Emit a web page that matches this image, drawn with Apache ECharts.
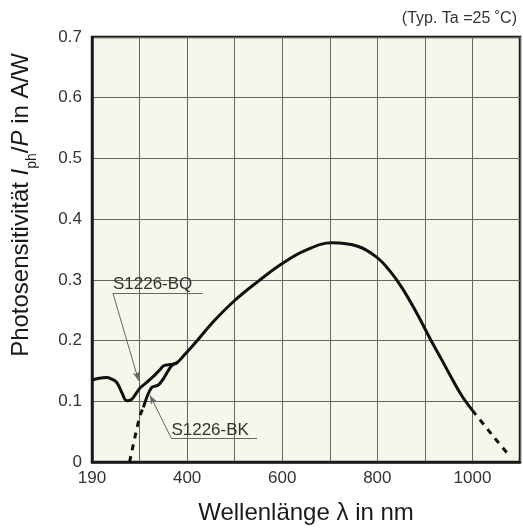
<!DOCTYPE html>
<html>
<head>
<meta charset="utf-8">
<script src="https://cdn.jsdelivr.net/npm/echarts@6/dist/echarts.min.js"></script>
<style>
html,body{margin:0;padding:0;background:#fff;}
#c{width:523px;height:530px;}
</style>
</head>
<body>
<div id="c"></div>
<script>
// ---- data (wavelength nm, photosensitivity A/W) ----
const bqWave = [200, 215, 231, 240, 252, 263, 273, 283, 292, 301, 315, 322, 333, 343, 350, 360, 370, 378, 395, 420, 455, 500, 550, 600, 650, 705, 760, 799, 825, 851, 883, 911, 935, 953, 977, 1000];
const bqVal  = [0.135, 0.138, 0.139, 0.137, 0.131, 0.114, 0.101, 0.103, 0.112, 0.122, 0.131, 0.136, 0.144, 0.152, 0.158, 0.160, 0.161, 0.163, 0.177, 0.199, 0.231, 0.266, 0.298, 0.327, 0.349, 0.361, 0.355, 0.337, 0.316, 0.288, 0.245, 0.203, 0.169, 0.143, 0.110, 0.085];
const tailWave = [1000, 1040, 1079];
const tailVal  = [0.085, 0.046, 0.009];
const bkDashWave = [279, 290, 301, 308];
const bkDashVal  = [0.0, 0.040, 0.077, 0.090];
const bkWave = [308, 318, 326, 333, 340, 350, 364, 371, 378];
const bkVal  = [0.090, 0.112, 0.123, 0.125, 0.127, 0.137, 0.155, 0.161, 0.163];
const xTickLabels = {200: '190', 400: '400', 600: '600', 800: '800', 1000: '1000'};
// annotation anchors (data coordinates)
const bqLabel = {text: 'S1226-BQ', start: [244, 0.278], end: [433, 0.278], tip: [298, 0.134]};
const bkLabel = {text: 'S1226-BK', start: [367, 0.0386], end: [547, 0.0386], tip: [322, 0.110]};

function pairs(xs, ys) { return xs.map((x, i) => [x, ys[i]]); }

const FONT = 'Liberation Sans, Arial, sans-serif';
const chart = echarts.init(document.getElementById('c'), null, {renderer: 'canvas'});

function annot(a) {
  const lbl = {show: true, position: 'insideStartTop', formatter: a.text, fontSize: 17, color: '#333', fontFamily: FONT, distance: 0};
  return [
    [{coord: a.start, symbol: 'none', label: lbl}, {coord: a.end, symbol: 'none'}],
    [{coord: a.start, symbol: 'none', label: {show: false}}, {coord: a.tip, symbol: 'arrow', symbolSize: [5, 9]}]
  ];
}

const option = {
  animation: false,
  textStyle: {fontFamily: FONT},
  title: {
    text: '(Typ. Ta =25 ˚C)', right: 1, top: 6,
    textStyle: {fontSize: 16, fontWeight: 'normal', color: '#333', fontFamily: FONT}
  },
  grid: {
    left: 92, right: 3, top: 37, bottom: 63,
    show: true, backgroundColor: '#f7f6ea', borderColor: '#1a1a1a', borderWidth: 2.5
  },
  xAxis: {
    type: 'value', min: 200, max: 1100, interval: 100,
    name: 'Wellenlänge λ in nm', nameLocation: 'middle', nameGap: 39,
    nameTextStyle: {fontSize: 24, color: '#1a1a1a', fontFamily: FONT},
    axisLine: {show: true, lineStyle: {color: '#1a1a1a', width: 2.5}},
    axisTick: {show: false},
    axisLabel: {
      fontSize: 17, color: '#333', margin: 8, fontFamily: FONT,
      showMinLabel: true, showMaxLabel: true,
      formatter: v => xTickLabels[v] || ''
    },
    splitLine: {show: true, lineStyle: {color: '#666', width: 1}}
  },
  yAxis: {
    type: 'value', min: 0, max: 0.7, interval: 0.1,
    axisLine: {show: true, lineStyle: {color: '#1a1a1a', width: 2.5}},
    axisTick: {show: false},
    axisLabel: {fontSize: 17, color: '#333', margin: 10, fontFamily: FONT,
      formatter: v => (v === 0 ? '0' : v.toFixed(1))},
    splitLine: {show: true, lineStyle: {color: '#666', width: 1}}
  },
  graphic: [{
    type: 'text', x: 24, y: 205, rotation: Math.PI / 2,
    style: {
      text: '{n|Photosensitivität }{i|I}{s|ph}{n|/}{i|P}{n| in A/W}',
      align: 'center', verticalAlign: 'middle',
      rich: {
        n: {fontSize: 24, fontFamily: FONT, fill: '#1a1a1a', lineHeight: 30, verticalAlign: 'top'},
        i: {fontSize: 24, fontFamily: FONT, fontStyle: 'italic', fill: '#1a1a1a', lineHeight: 30, verticalAlign: 'top'},
        s: {fontSize: 14, fontFamily: FONT, fill: '#1a1a1a', lineHeight: 14, verticalAlign: 'bottom'}
      }
    }
  }],
  series: [
    {type: 'line', name: 'S1226-BQ', data: pairs(bqWave, bqVal), smooth: 0.4, symbol: 'none',
     lineStyle: {color: '#111', width: 3}, z: 5},
    {type: 'line', name: 'tail', data: pairs(tailWave, tailVal), smooth: 0.2, symbol: 'none',
     lineStyle: {color: '#111', width: 3, type: [6, 6]}, z: 5},
    {type: 'line', name: 'S1226-BK dashed', data: pairs(bkDashWave, bkDashVal), smooth: 0.2, symbol: 'none',
     lineStyle: {color: '#111', width: 3, type: [6, 6]}, z: 5},
    {type: 'line', name: 'S1226-BK', data: pairs(bkWave, bkVal), smooth: 0.3, symbol: 'none',
     lineStyle: {color: '#111', width: 3}, z: 5},
    {type: 'line', name: 'annotations', data: [], symbol: 'none', z: 6,
     markLine: {
       silent: true, animation: false,
       lineStyle: {color: '#666', width: 1, type: 'solid'},
       data: annot(bqLabel).concat(annot(bkLabel))
     }}
  ]
};
chart.setOption(option);
</script>
</body>
</html>
